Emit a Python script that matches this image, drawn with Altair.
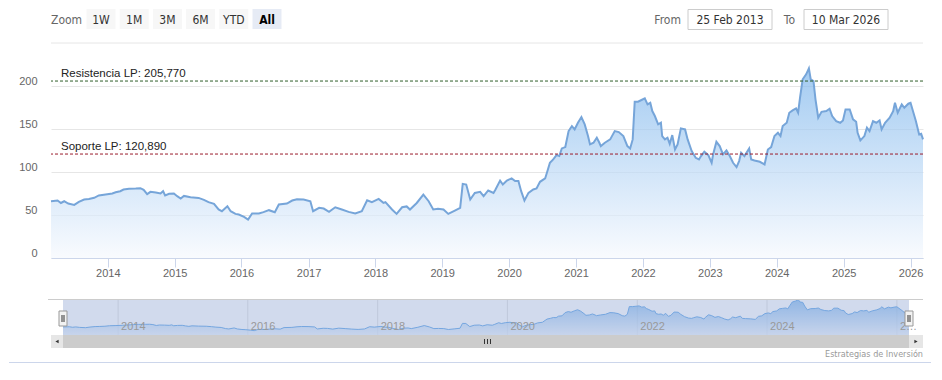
import altair as alt
import pandas as pd
import numpy as np

# ---------------- data ----------------
dates = [
    "2013-02-25", "2013-04-02", "2013-04-20", "2013-05-08", "2013-05-30", "2013-07-02", "2013-07-27",
    "2013-08-25", "2013-09-20", "2013-10-19", "2013-11-13", "2013-12-20",
    "2014-01-26", "2014-02-13", "2014-03-10", "2014-03-28", "2014-04-27", "2014-06-03", "2014-06-28",
    "2014-07-16", "2014-08-04", "2014-08-22", "2014-09-20", "2014-10-16", "2014-10-30", "2014-11-10",
    "2014-12-02", "2014-12-28",
    "2015-01-15", "2015-02-03", "2015-02-21", "2015-03-29", "2015-05-12", "2015-06-10", "2015-07-05",
    "2015-08-04", "2015-08-29", "2015-09-16", "2015-10-16", "2015-11-03", "2015-11-29", "2015-12-17",
    "2016-01-15", "2016-02-06", "2016-02-28", "2016-04-05", "2016-04-30", "2016-05-30", "2016-07-01",
    "2016-07-23", "2016-09-05", "2016-10-04", "2016-10-30", "2016-12-05",
    "2017-01-11", "2017-01-26", "2017-02-28", "2017-03-25", "2017-04-23", "2017-05-27", "2017-07-02",
    "2017-08-08", "2017-09-13", "2017-10-19", "2017-11-17", "2017-12-13",
    "2018-01-19", "2018-02-14", "2018-02-25", "2018-04-02", "2018-04-27", "2018-05-27", "2018-06-21",
    "2018-07-09", "2018-08-15", "2018-09-20", "2018-10-19", "2018-11-13", "2018-12-09",
    "2019-01-08", "2019-02-03", "2019-03-11", "2019-04-09", "2019-04-23", "2019-05-12", "2019-06-03",
    "2019-06-28", "2019-07-27", "2019-08-15", "2019-09-09", "2019-10-08", "2019-10-19", "2019-11-13",
    "2019-11-28", "2019-12-20",
    "2020-01-15", "2020-02-03", "2020-02-21", "2020-03-07", "2020-03-25", "2020-04-16", "2020-05-12",
    "2020-05-30", "2020-06-18", "2020-07-16", "2020-07-31", "2020-08-11", "2020-08-29", "2020-09-16",
    "2020-10-01", "2020-10-15", "2020-11-03", "2020-11-21", "2020-12-09", "2020-12-24",
    "2021-01-11", "2021-01-30", "2021-02-17", "2021-03-07", "2021-03-18", "2021-04-06", "2021-04-24",
    "2021-05-08", "2021-05-16", "2021-06-07", "2021-07-06", "2021-07-31", "2021-08-22", "2021-09-16",
    "2021-10-08", "2021-10-23", "2021-11-06", "2021-11-17", "2021-12-05", "2021-12-24",
    "2022-01-11", "2022-01-26", "2022-02-10", "2022-02-21", "2022-03-07", "2022-03-25", "2022-04-09",
    "2022-04-16", "2022-05-01", "2022-05-15", "2022-05-27", "2022-06-10", "2022-06-25", "2022-07-09",
    "2022-07-27", "2022-08-19", "2022-09-02", "2022-09-24", "2022-10-16", "2022-11-03", "2022-11-14",
    "2022-12-02", "2022-12-24",
    "2023-01-11", "2023-01-19", "2023-02-06", "2023-02-24", "2023-03-14", "2023-04-02", "2023-04-20",
    "2023-05-08", "2023-05-27", "2023-06-10", "2023-06-21", "2023-07-09", "2023-08-04", "2023-08-15",
    "2023-09-02", "2023-10-01", "2023-10-27", "2023-11-14", "2023-12-02", "2023-12-20",
    "2024-01-08", "2024-01-22", "2024-02-03", "2024-02-25", "2024-03-10", "2024-03-28", "2024-04-16",
    "2024-04-27", "2024-05-08", "2024-05-22", "2024-06-10", "2024-06-25", "2024-07-05", "2024-07-20",
    "2024-07-31", "2024-08-15", "2024-09-02", "2024-09-28", "2024-10-16", "2024-10-30", "2024-11-21",
    "2024-12-13", "2024-12-28",
    "2025-01-11", "2025-02-03", "2025-02-21", "2025-03-10", "2025-03-18", "2025-04-02", "2025-04-24",
    "2025-05-08", "2025-05-22", "2025-06-10", "2025-06-28", "2025-07-16", "2025-07-27", "2025-08-15",
    "2025-09-09", "2025-09-28", "2025-10-08", "2025-10-23", "2025-11-14", "2025-11-28", "2025-12-20",
    "2026-01-01", "2026-01-30", "2026-02-17", "2026-02-28", "2026-03-10",
]
values = [
    66.0, 66.8, 64.0, 66.0, 63.3, 61.7, 65.2,
    68.0, 68.7, 70.0, 72.7, 73.8,
    75.0, 76.5, 77.7, 79.6, 80.4, 80.8, 81.2,
    79.2, 74.2, 76.9, 76.2, 75.0, 77.7, 72.7,
    74.6, 75.0,
    71.9, 69.2, 72.2, 70.7, 69.9, 67.6, 64.9,
    62.9, 56.4, 54.4, 60.2, 54.4, 51.3, 50.5,
    47.8, 44.7, 51.7, 51.7, 53.3, 55.6, 53.2,
    62.2, 63.3, 66.8, 68.4, 68.0,
    66.0, 54.4, 58.3, 57.5, 53.6, 59.0, 56.4,
    53.6, 51.7, 54.4, 67.2, 64.9,
    68.7, 64.1, 65.0, 56.4, 51.3, 59.0, 60.0,
    56.4, 64.0, 73.8, 66.0, 56.4, 57.3,
    56.4, 51.3, 55.2, 58.3, 86.2, 85.4, 68.0,
    75.7, 76.9, 71.9, 78.5, 75.7, 79.7, 90.0,
    85.5, 90.1,
    92.5, 89.6, 89.6, 77.7, 66.8, 75.7, 79.7,
    80.8, 88.6, 92.5, 103.0, 110.7, 114.6, 119.6,
    118.5, 127.4, 129.0, 147.6, 153.4, 149.5,
    157.3, 163.9, 155.4, 141.8, 132.1, 134.0, 139.8,
    134.0, 130.1, 134.0, 137.9, 147.6, 146.4, 141.8,
    130.1, 127.4, 137.9, 181.7, 181.7, 183.7,
    185.7, 178.6, 180.5, 170.9, 165.1, 155.4, 157.3,
    141.8, 137.9, 139.8, 132.8, 142.9, 126.2, 132.1,
    150.7, 149.5, 137.9, 124.3, 116.5, 114.6, 118.5,
    123.5, 119.6,
    110.7, 120.4, 135.1, 130.1, 120.4, 125.1, 118.5,
    110.7, 105.7, 112.7, 122.4, 118.5, 127.4, 114.6,
    113.4, 111.9, 108.8, 126.2, 129.0, 141.8,
    145.6, 141.8, 153.4, 157.3, 168.9, 171.6, 173.9,
    168.9, 187.2, 207.8, 213.6, 220.6, 207.8, 205.8,
    184.5, 163.1, 170.0, 170.8, 173.5, 165.0, 159.2,
    157.3, 160.0,
    172.8, 172.8, 161.2, 158.5, 145.6, 136.7, 141.8,
    151.5, 147.6, 159.2, 157.3, 160.0, 149.5, 157.3,
    163.1, 170.8, 180.5, 168.9, 178.6, 174.7, 179.4,
    180.5, 159.2, 143.7, 144.5, 137.9,
]

zoom_buttons = ["1W", "1M", "3M", "6M", "YTD", "All"]
selected_button = "All"
range_captions = ["From", "To"]
range_values = ["25 Feb 2013", "10 Mar 2026"]

plot_line_values = [205.77, 120.89]
plot_line_labels = ["Resistencia LP: 205,770", "Soporte LP: 120,890"]
plot_line_colors = ["#2f5f2a", "#9b1c2c"]

y_ticks = [0, 50, 100, 150, 200]
y_top = 250
x_years = list(range(2014, 2027))
nav_years = [2014, 2016, 2018, 2020, 2022, 2024, 2026]
credit_text = "Estrategias de Inversión"

# ---------------- styling ----------------
W = 872
H = 215
FONT = "Liberation Sans, Arial, sans-serif"
FONT_UI = "Liberation Sans Narrow, DejaVu Sans Condensed, Arial Narrow, sans-serif"
LINE = "#76a5d9"

df = pd.DataFrame({"date": dates, "value": values})

start = alt.DateTime(year=2013, month=2, date=25, utc=True)
end = alt.DateTime(year=2026, month=3, date=10, utc=True)

gradient = alt.Gradient(
    gradient="linear",
    stops=[alt.GradientStop(color="#7cb5ec", offset=0),
           alt.GradientStop(color="#f6f9fe", offset=1)],
    x1=1, x2=1, y1=0, y2=1,
)

# ---------------- panel A: range selector ----------------
btn = pd.DataFrame({"label": zoom_buttons})
btn["x0"] = 35.5 + 33.2 * np.arange(len(btn))
btn["x1"] = btn["x0"] + 29
btn["xc"] = btn["x0"] + 14.5
pxs = alt.Scale(domain=[0, W], range=[0, W])

btn_rect = alt.Chart(btn).mark_rect().encode(
    x=alt.X("x0:Q", scale=pxs, axis=None), x2="x1:Q",
    y=alt.value(0), y2=alt.value(20),
    color=alt.condition(f"datum.label == '{selected_button}'", alt.value("#e6ebf5"), alt.value("#f7f7f7")),
)
btn_text = alt.Chart(btn).transform_filter(f"datum.label != '{selected_button}'").mark_text(
    font=FONT_UI, fontSize=12, color="#333333", baseline="middle"
).encode(x=alt.X("xc:Q", scale=pxs, axis=None), y=alt.value(10.5), text="label:N")
btn_text_sel = alt.Chart(btn).transform_filter(f"datum.label == '{selected_button}'").mark_text(
    font=FONT_UI, fontSize=12, color="#000000", fontWeight="bold", baseline="middle"
).encode(x=alt.X("xc:Q", scale=pxs, axis=None), y=alt.value(10.5), text="label:N")
zoom_text = alt.Chart(pd.DataFrame({"t": ["Zoom"]})).mark_text(
    font=FONT_UI, fontSize=12, color="#666666", align="left", baseline="middle"
).encode(x=alt.value(0), y=alt.value(10.5), text="t:N")

rng = pd.DataFrame({"cap": range_captions, "val": range_values})
rng["cap_x"] = [630, 744]
rng["b0"] = [637, 753]
rng["b1"] = rng["b0"] + 84
rng["bc"] = rng["b0"] + 42
rng_box = alt.Chart(rng).mark_rect(fill="white", stroke="#cccccc", strokeWidth=1).encode(
    x=alt.X("b0:Q", scale=pxs, axis=None), x2="b1:Q", y=alt.value(0.5), y2=alt.value(20.5))
rng_val = alt.Chart(rng).mark_text(font=FONT_UI, fontSize=12, color="#333333", baseline="middle").encode(
    x=alt.X("bc:Q", scale=pxs, axis=None), y=alt.value(10.5), text="val:N")
rng_cap = alt.Chart(rng).mark_text(font=FONT_UI, fontSize=12, color="#666666", align="right",
                                   baseline="middle").encode(
    x=alt.X("cap_x:Q", scale=pxs, axis=None), y=alt.value(10.5), text="cap:N")

panel_a = alt.layer(btn_rect, btn_text, btn_text_sel, zoom_text, rng_box, rng_val, rng_cap).properties(
    width=W, height=33)

# ---------------- panel B: main chart ----------------
yscale = alt.Scale(domain=[0, y_top], nice=False)
xscale = alt.Scale(type="utc", domain=[start, end])

area = alt.Chart(df).mark_area(
    color=gradient, line={"color": LINE, "strokeWidth": 2}
).encode(
    x=alt.X("date:T", scale=xscale, title=None,
            axis=alt.Axis(values=[alt.DateTime(year=y, utc=True) for y in x_years], format="%Y",
                          grid=False, domainColor="#ccd6eb", tickColor="#ccd6eb", tickSize=9,
                          labelPadding=0, labelColor="#666666", labelFontSize=11, labelFont=FONT,
                          labelFlush=False)),
    y=alt.Y("value:Q", scale=yscale, title=None,
            axis=alt.Axis(values=y_ticks, grid=True, gridColor="#e6e6e6", domain=False, ticks=False,
                          labelPadding=14, labelOffset=-5, labelColor="#666666", labelFontSize=11,
                          labelFont=FONT)),
)
top_grid = alt.Chart(pd.DataFrame({"v": [y_top]})).mark_rule(color="#e6e6e6").encode(
    y=alt.Y("v:Q", scale=yscale))

pl = pd.DataFrame({"v": plot_line_values, "label": plot_line_labels, "c": plot_line_colors})
pl_rules = alt.Chart(pl).mark_rule(strokeDash=[3, 2], strokeWidth=1).encode(
    y=alt.Y("v:Q", scale=yscale),
    color=alt.Color("c:N", scale=None),
)
pl_text = alt.Chart(pl).mark_text(align="left", baseline="bottom", dx=10, dy=-2, font=FONT,
                                  fontSize=11.5, color="#222222").encode(
    x=alt.value(0), y=alt.Y("v:Q", scale=yscale), text="label:N")

panel_b = alt.layer(top_grid, area, pl_rules, pl_text).properties(width=W, height=H)

# ---------------- panel C: navigator ----------------
NT = 21
NH = 36
nav_x = alt.Scale(type="utc", domain=[start, end], range=[12, 858])
nav_y = alt.Scale(domain=[20, 225], range=[NT + NH, NT])

ny = pd.DataFrame({"year": nav_years})
ny["date"] = [f"{y}-01-01" for y in nav_years]

nav_grid = alt.Chart(ny).mark_rule(color="#e6e6e6").encode(
    x=alt.X("date:T", scale=nav_x, axis=None), y=alt.value(NT), y2=alt.value(NT + NH))
nav_area = alt.Chart(df).mark_area(
    color=gradient, line={"color": "#7cb5ec", "strokeWidth": 1}
).encode(x=alt.X("date:T", scale=nav_x, axis=None), y=alt.Y("value:Q", scale=nav_y, axis=None))

one = pd.DataFrame({"a": [0]})
nav_mask = alt.Chart(one).mark_rect(fill="#6685c2", opacity=0.3).encode(
    x=alt.value(12), x2=alt.value(858), y=alt.value(NT), y2=alt.value(NT + NH))
nav_outline = alt.Chart(one).mark_rule(color="#cccccc").encode(
    x=alt.value(-3), x2=alt.value(872), y=alt.value(NT + 0.5))
nav_labels = alt.Chart(ny).transform_calculate(
    lab="datum.year == 2026 ? '2…' : '' + datum.year"
).mark_text(align="left", baseline="middle", dx=3, font=FONT, fontSize=11, color="#999999").encode(
    x=alt.X("date:T", scale=nav_x, axis=None), y=alt.value(NT + 28), text="lab:N")

hd = pd.DataFrame({"h": [0, 1]})
hd["x0"] = [8, 854]
hd["x1"] = hd["x0"] + 8
hd["xa"] = hd["x0"] + 3
hd["xb"] = hd["x0"] + 5
hscale = alt.Scale(domain=[0, W], range=[0, W])
handles = alt.Chart(hd).mark_rect(fill="#f2f2f2", stroke="#999999", strokeWidth=1).encode(
    x=alt.X("x0:Q", scale=hscale, axis=None), x2="x1:Q", y=alt.value(NT + 12), y2=alt.value(NT + 27))
handle_l1 = alt.Chart(hd).mark_rule(color="#333333").encode(
    x=alt.X("xa:Q", scale=hscale, axis=None), y=alt.value(NT + 16), y2=alt.value(NT + 23))
handle_l2 = alt.Chart(hd).mark_rule(color="#333333").encode(
    x=alt.X("xb:Q", scale=hscale, axis=None), y=alt.value(NT + 16), y2=alt.value(NT + 23))

SB = NT + NH
sb_track = alt.Chart(one).mark_rect(fill="#cccccc").encode(
    x=alt.value(0), x2=alt.value(872), y=alt.value(SB), y2=alt.value(SB + 13))
sb_btn = alt.Chart(pd.DataFrame({"b": [0, 1], "x0": [0, 858], "x1": [12, 872]})).mark_rect(
    fill="#e6e6e6").encode(x=alt.X("x0:Q", scale=hscale, axis=None), x2="x1:Q",
                           y=alt.value(SB), y2=alt.value(SB + 13))
sb_arrows = alt.Chart(pd.DataFrame({"x": [6, 865], "s": ["triangle-left", "triangle-right"]})).mark_point(
    filled=True, color="#333333", size=14, opacity=1).encode(
    x=alt.X("x:Q", scale=hscale, axis=None), y=alt.value(SB + 6.5), shape=alt.Shape("s:N", scale=None))
grip = alt.Chart(pd.DataFrame({"x": [433.5, 436.5, 439.5]})).mark_rule(color="#333333").encode(
    x=alt.X("x:Q", scale=hscale, axis=None), y=alt.value(SB + 4), y2=alt.value(SB + 9))
credits = alt.Chart(pd.DataFrame({"t": [credit_text]})).mark_text(
    align="right", baseline="middle", font=FONT_UI, fontSize=9, color="#999999").encode(
    x=alt.value(872), y=alt.value(SB + 19), text="t:N")
bottom_line = alt.Chart(one).mark_rule(color="#ccd6eb").encode(
    x=alt.value(-42), x2=alt.value(880), y=alt.value(SB + 27.5))

panel_c = alt.layer(
    nav_grid, nav_area, nav_mask, nav_outline, nav_labels, handles, handle_l1, handle_l2,
    sb_track, sb_btn, sb_arrows, grip, credits, bottom_line
).properties(width=W, height=NT + NH + 28)

chart = alt.vconcat(panel_a, panel_b, panel_c, spacing=0).properties(
    padding={"left": 0, "top": 1, "right": 0, "bottom": 0}
).configure_view(stroke=None)

chart.save("out.html", embed_options={"renderer": "svg", "actions": False})
